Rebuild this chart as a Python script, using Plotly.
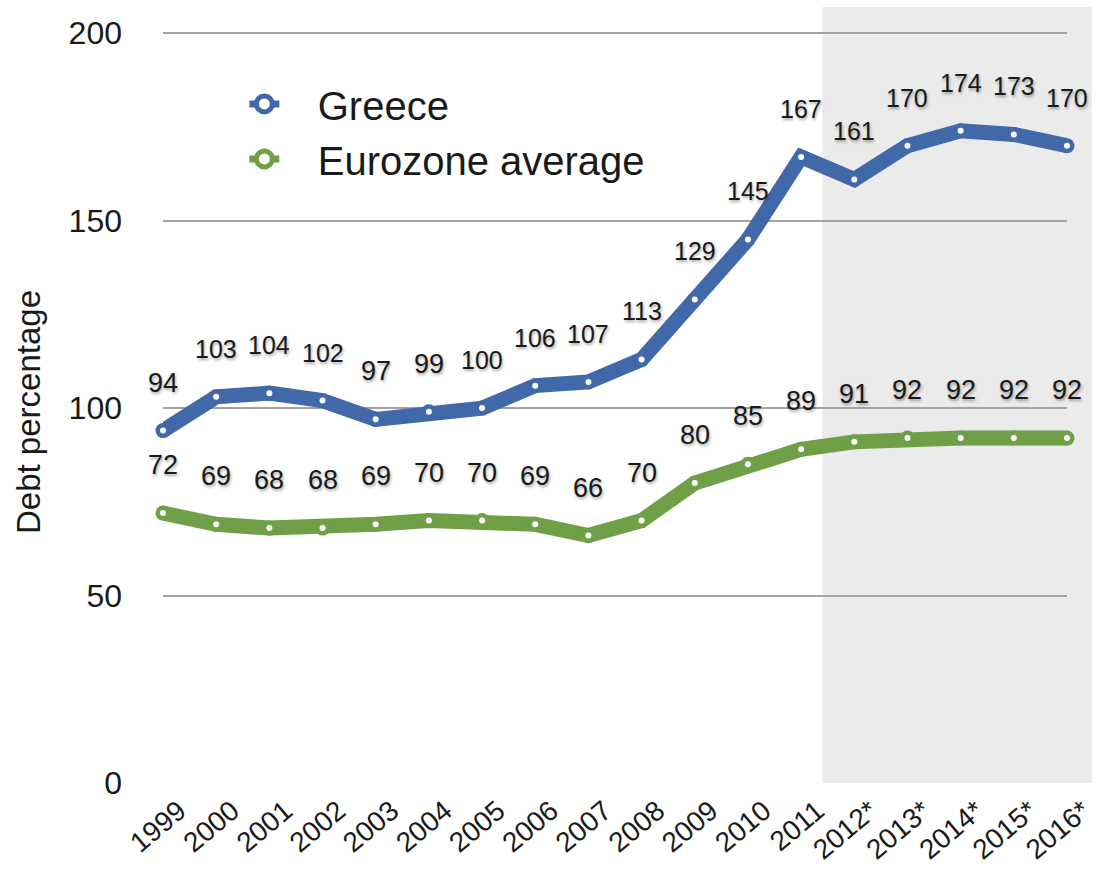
import plotly.graph_objects as go

years = ["1999", "2000", "2001", "2002", "2003", "2004", "2005", "2006", "2007",
         "2008", "2009", "2010", "2011", "2012*", "2013*", "2014*", "2015*", "2016*"]
greece = [94, 103, 104, 102, 97, 99, 100, 106, 107, 113, 129, 145, 167, 161, 170, 174, 173, 170]
eurozone = [72, 69, 68, 68, 69, 70, 70, 69, 66, 70, 80, 85, 89, 91, 92, 92, 92, 92]
y_ticks = [0, 50, 100, 150, 200]
forecast_start = 12.4  # shaded forecast region starts between 2011 and 2012

BLUE = "#4168a9"
GREEN = "#6fa047"
FONT = "Liberation Sans, Arial, sans-serif"
TXT = "#1a1a1a"
NB = "\u00a0"

x = list(range(len(years)))
fig = go.Figure()

# legend-only entries
for name, col in [("Greece", BLUE), ("Eurozone average", GREEN)]:
    fig.add_trace(go.Scatter(
        x=[None], y=[None], name=NB * 3 + name, mode="lines+markers",
        line=dict(color=col, width=7),
        marker=dict(symbol="circle", size=19, color="white", line=dict(color=col, width=5)),
    ))

for vals, col in [(greece, BLUE), (eurozone, GREEN)]:
    fig.add_trace(go.Scatter(
        x=x, y=vals, mode="lines+markers", showlegend=False, cliponaxis=False,
        line=dict(color=col, width=15),
        marker=dict(size=15, color=col),
        hoverinfo="skip",
    ))
    fig.add_trace(go.Scatter(
        x=x, y=vals, mode="markers", showlegend=False, cliponaxis=False,
        marker=dict(size=6, color="white"),
        hoverinfo="skip",
    ))

annotations = []
for vals in (greece, eurozone):
    for xi, v in zip(x, vals):
        annotations.append(dict(
            x=xi, y=v, text=str(v), showarrow=False, yshift=48,
            font=dict(family=FONT, size=27 if v < 100 else 25, color=TXT,
                      shadow="1px 2px 3px rgba(0,0,0,0.35)"),
        ))

plot_w = 1102 - 163 - 35
annotations.append(dict(
    xref="paper", yref="paper", x=-(163 - 29) / plot_w, y=(783 - 412) / 776,
    text="Debt percentage", textangle=-90, showarrow=False,
    xanchor="center", yanchor="middle",
    font=dict(family=FONT, size=33, color=TXT),
))

fig.update_layout(
    width=1102, height=871,
    margin=dict(l=163, r=35, t=7, b=88),
    paper_bgcolor="white", plot_bgcolor="white",
    font=dict(family=FONT, color=TXT),
    showlegend=True,
    legend=dict(
        x=0.09, y=0.917, xanchor="left", yanchor="top",
        bgcolor="rgba(0,0,0,0)", font=dict(family=FONT, size=40, color=TXT),
        tracegroupgap=0,
    ),
    annotations=annotations,
    shapes=[dict(
        type="rect", xref="paper", yref="paper",
        x0=forecast_start / (len(years) - 1), x1=(1092 - 163) / plot_w, y0=0, y1=1,
        fillcolor="#ebebeb", line=dict(width=0), layer="below",
    )],
    xaxis=dict(
        range=[0, len(years) - 1], tickmode="array", tickvals=x, ticktext=years,
        tickangle=-40, showgrid=False, zeroline=False, showline=False, ticks="",
        ticklabelshift=16, ticklabelstandoff=5, automargin=False,
        tickfont=dict(family=FONT, size=28, color=TXT),
    ),
    yaxis=dict(
        range=[0, 207], tickmode="array", tickvals=y_ticks,
        showgrid=True, gridcolor="#a3a3a3", gridwidth=1.5, zeroline=False,
        ticks="", ticklabelstandoff=40, automargin=False,
        tickfont=dict(family=FONT, size=32, color=TXT),
    ),
)

fig.write_html("out.html")
